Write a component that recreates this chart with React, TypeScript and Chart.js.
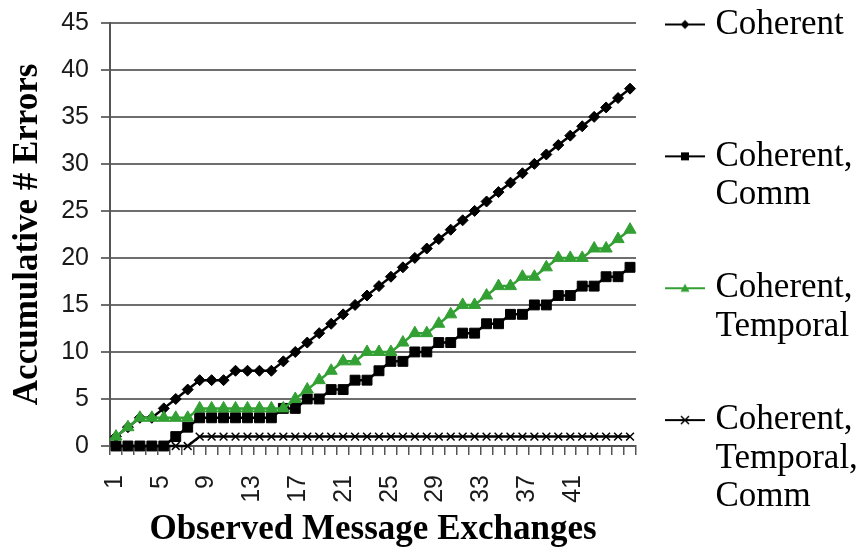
import { useEffect, useRef } from 'react';
import { Chart, registerables } from 'chart.js';

Chart.register(...registerables);

// Message exchange index (category axis)
const exchanges = [
  '1', '2', '3', '4', '5', '6', '7', '8', '9', '10', '11',
  '12', '13', '14', '15', '16', '17', '18', '19', '20', '21', '22',
  '23', '24', '25', '26', '27', '28', '29', '30', '31', '32', '33',
  '34', '35', '36', '37', '38', '39', '40', '41', '42', '43', '44',
];

// Labels printed under the horizontal axis
const exchangeTickLabels = [1, 5, 9, 13, 17, 21, 25, 29, 33, 37, 41];

const seriesNames = [
  'Coherent',
  'Coherent, Comm',
  'Coherent, Temporal',
  'Coherent, Temporal, Comm',
];

// Accumulative number of errors per configuration
const coherent = [
  1, 2, 3, 3, 4, 5, 6, 7, 7, 7, 8, 8, 8, 8, 9, 10, 11, 12, 13, 14, 15, 16,
  17, 18, 19, 20, 21, 22, 23, 24, 25, 26, 27, 28, 29, 30, 31, 32, 33, 34, 35, 36, 37, 38,
];
const coherentComm = [
  0, 0, 0, 0, 0, 1, 2, 3, 3, 3, 3, 3, 3, 3, 4, 4, 5, 5, 6, 6, 7, 7,
  8, 9, 9, 10, 10, 11, 11, 12, 12, 13, 13, 14, 14, 15, 15, 16, 16, 17, 17, 18, 18, 19,
];
const coherentTemporal = [
  1, 2, 3, 3, 3, 3, 3, 4, 4, 4, 4, 4, 4, 4, 4, 5, 6, 7, 8, 9, 9, 10,
  10, 10, 11, 12, 12, 13, 14, 15, 15, 16, 17, 17, 18, 18, 19, 20, 20, 20, 21, 21, 22, 23,
];
const coherentTemporalComm = [
  0, 0, 0, 0, 0, 0, 0, 1, 1, 1, 1, 1, 1, 1, 1, 1, 1, 1, 1, 1, 1, 1,
  1, 1, 1, 1, 1, 1, 1, 1, 1, 1, 1, 1, 1, 1, 1, 1, 1, 1, 1, 1, 1, 1,
];

const GREEN = '#33a033';
const SANS = "'Liberation Sans', Arial, sans-serif";
const SERIF = "'Liberation Serif', 'Times New Roman', serif";

type Marker = 'diamond' | 'square' | 'triangle' | 'cross';

// Small "line with marker" swatch used by the legend
function legendIcon(color: string, marker: Marker): HTMLCanvasElement {
  const c = document.createElement('canvas');
  c.width = 40;
  c.height = 16;
  const g = c.getContext('2d')!;
  g.strokeStyle = color;
  g.fillStyle = color;
  g.lineWidth = 2;
  g.beginPath();
  g.moveTo(0, 8);
  g.lineTo(40, 8);
  g.stroke();
  g.beginPath();
  if (marker === 'diamond') {
    g.moveTo(20, 3.5);
    g.lineTo(24.5, 8);
    g.lineTo(20, 12.5);
    g.lineTo(15.5, 8);
    g.closePath();
    g.fill();
  } else if (marker === 'square') {
    g.rect(16, 4, 8, 8);
    g.fill();
  } else if (marker === 'triangle') {
    g.moveTo(20, 3.5);
    g.lineTo(24.5, 11.5);
    g.lineTo(15.5, 11.5);
    g.closePath();
    g.fill();
  } else {
    g.lineWidth = 1.5;
    g.moveTo(16, 4);
    g.lineTo(24, 12);
    g.moveTo(24, 4);
    g.lineTo(16, 12);
    g.stroke();
  }
  return c;
}

export default function App() {
  const canvasRef = useRef<HTMLCanvasElement>(null);

  useEffect(() => {
    const canvas = canvasRef.current;
    if (!canvas) return;

    const icons = [
      legendIcon('#000', 'diamond'),
      legendIcon('#000', 'square'),
      legendIcon(GREEN, 'triangle'),
      legendIcon('#000', 'cross'),
    ];

    // Pin the legend column to the right edge, starting near the top
    const placeLegend = {
      id: 'placeLegend',
      afterLayout(chart: any) {
        const lg = chart.legend;
        if (!lg) return;
        lg.left = 655;
        lg.right = 861;
        lg.width = 206;
        lg.top = -10;
        lg.bottom = 553;
        lg.height = 563;
      },
    };

    const common = {
      borderWidth: 2.5,
      tension: 0,
      clip: false as const,
      pointBorderWidth: 1,
    };

    const chart = new Chart(canvas, {
      type: 'line',
      data: {
        labels: exchanges,
        datasets: [
          {
            ...common,
            label: seriesNames[0],
            data: coherent,
            borderColor: '#000',
            backgroundColor: '#000',
            pointStyle: 'rectRot',
            pointRadius: 5.5,
            order: 4,
          },
          {
            ...common,
            label: seriesNames[1],
            data: coherentComm,
            borderColor: '#000',
            backgroundColor: '#000',
            pointStyle: 'rect',
            pointRadius: 7,
            order: 3,
          },
          {
            ...common,
            label: seriesNames[2],
            data: coherentTemporal,
            borderColor: GREEN,
            backgroundColor: GREEN,
            pointStyle: 'triangle',
            pointRadius: 7,
            order: 2,
          },
          {
            ...common,
            label: seriesNames[3],
            data: coherentTemporalComm,
            borderColor: '#000',
            backgroundColor: '#000',
            pointStyle: 'crossRot',
            pointRadius: 5.5,
            pointBorderWidth: 1.5,
            order: 1,
          },
        ],
      },
      options: {
        responsive: false,
        animation: false,
        devicePixelRatio: 1,
        events: [],
        layout: { padding: 0 },
        scales: {
          x: {
            type: 'category',
            position: 'bottom',
            offset: true,
            weight: 0,
            grid: {
              offset: true,
              drawOnChartArea: false,
              drawTicks: true,
              tickLength: 9,
              color: '#555',
              lineWidth: 1.5,
            },
            border: { display: true, color: '#555', width: 2 },
            ticks: { display: false },
            afterFit: (s: any) => {
              s.height = 9;
            },
          },
          xl: {
            type: 'linear',
            position: 'bottom',
            weight: 1,
            bounds: 'data',
            min: 0.563,
            max: 46.53,
            grid: { display: false },
            border: { display: false },
            afterBuildTicks: (s: any) => {
              s.ticks = exchangeTickLabels.map((v) => ({ value: v }));
            },
            ticks: {
              autoSkip: false,
              minRotation: 90,
              maxRotation: 90,
              padding: 12,
              color: '#1a1a1a',
              font: { family: SANS, size: 25 },
            },
            title: {
              display: true,
              text: 'Observed Message Exchanges',
              color: '#000',
              font: { family: SERIF, size: 35, weight: 'bold' },
              padding: { top: 0, bottom: 2 },
            },
            afterFit: (s: any) => {
              s.height = 98;
            },
          },
          y: {
            type: 'linear',
            position: 'left',
            min: 0,
            max: 45,
            ticks: {
              stepSize: 5,
              padding: 12,
              color: '#1a1a1a',
              font: { family: SANS, size: 25, lineHeight: 0.86 },
            },
            grid: {
              color: '#6e6e6e',
              lineWidth: 2,
              drawTicks: true,
              tickLength: 9,
            },
            border: { display: true, color: '#555', width: 2 },
            title: {
              display: true,
              text: 'Accumulative # Errors',
              color: '#000',
              font: { family: SERIF, size: 35, weight: 'bold' },
              padding: { top: 7, bottom: 0 },
            },
            afterFit: (s: any) => {
              s.width = 110;
            },
          },
          yr: {
            type: 'linear',
            position: 'right',
            display: true,
            grid: { display: false },
            border: { display: false },
            ticks: { display: false },
            afterFit: (s: any) => {
              s.width = 35;
            },
          },
        },
        plugins: {
          tooltip: { enabled: false },
          title: {
            display: true,
            text: '',
            fullSize: false,
            padding: 0,
            font: { size: 19, lineHeight: 1.2 },
          },
          legend: {
            display: true,
            position: 'right',
            align: 'start',
            maxWidth: 190,
            labels: {
              usePointStyle: true,
              pointStyleWidth: 26,
              padding: 17,
              color: '#000',
              font: { family: SERIF, size: 35, lineHeight: 1.094 },
              generateLabels: (ch: any) =>
                ch.data.datasets.map((ds: any, i: number) => {
                  const lines = String(ds.label).split(' ');
                  while (lines.length < 3) lines.push('');
                  return {
                    text: lines,
                    fillStyle: ds.borderColor,
                    strokeStyle: ds.borderColor,
                    fontColor: '#000',
                    lineWidth: 0,
                    hidden: false,
                    pointStyle: icons[i],
                    datasetIndex: i,
                  };
                }),
            },
          },
        },
      },
      plugins: [placeLegend],
    } as any);

    return () => chart.destroy();
  }, []);

  return (
    <div
      style={{
        position: 'fixed',
        left: 0,
        top: 0,
        width: 861,
        height: 553,
        background: '#fff',
      }}
    >
      <canvas
        ref={canvasRef}
        width={861}
        height={553}
        style={{ display: 'block', width: 861, height: 553 }}
      />
    </div>
  );
}
